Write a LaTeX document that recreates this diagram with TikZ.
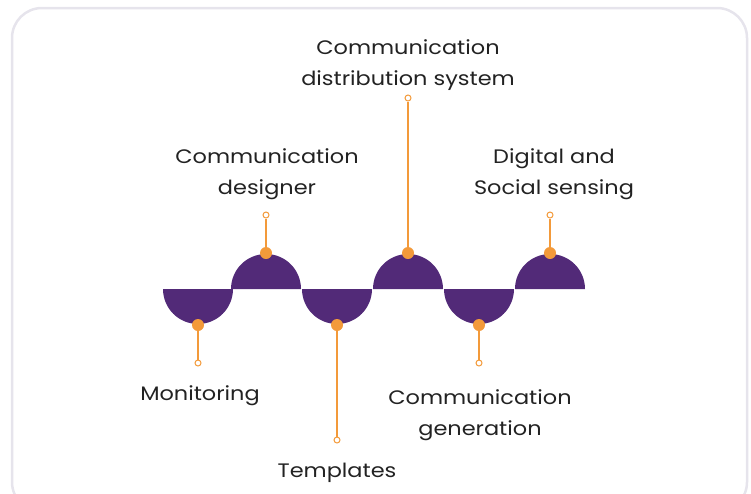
\documentclass[tikz,border=0pt]{standalone}
\usepackage{fontspec}
\setmainfont{Poppins}[FakeStretch=1.15]
\definecolor{frame}{HTML}{E6E4EC}
\definecolor{purp}{HTML}{522A78}
\definecolor{orng}{HTML}{F39A3A}
\definecolor{txt}{HTML}{222222}
\tikzset{
  x=1pt, y=-1pt,
  lbl/.style={font=\fontsize{19.5}{31}\selectfont, text=txt, align=center, inner sep=0pt, anchor=base},
  dot/.style={circle, fill=orng, minimum size=12pt, inner sep=0pt},
  ring/.style={circle, draw=orng, fill=white, line width=1pt, minimum size=6pt, inner sep=0pt},
  stem/.style={draw=orng, line width=1.3pt},
  cup/.style={fill=purp},
}
\begin{document}
\begin{tikzpicture}
\useasboundingbox (0,0) rectangle (751,493);
\draw[frame, line width=2.5pt, rounded corners=30pt] (12,8) rectangle (747,512);
% half discs
\fill[cup] (163,289) arc[start angle=180, end angle=360, x radius=35, y radius=-35] -- cycle;
\fill[cup] (231,289) arc[start angle=180, end angle=0, x radius=35, y radius=-35] -- cycle;
\fill[cup] (302,289) arc[start angle=180, end angle=360, x radius=35, y radius=-35] -- cycle;
\fill[cup] (373,289) arc[start angle=180, end angle=0, x radius=35, y radius=-35] -- cycle;
\fill[cup] (444,289) arc[start angle=180, end angle=360, x radius=35, y radius=-35] -- cycle;
\fill[cup] (515,289) arc[start angle=180, end angle=0, x radius=35, y radius=-35] -- cycle;
% dots and rings
\node[ring] (r1) at (198,363) {};
\node[ring] (r2) at (266,215) {};
\node[ring] (r3) at (337,440) {};
\node[ring] (r4) at (408,98) {};
\node[ring] (r5) at (479,363) {};
\node[ring] (r6) at (550,215) {};
\draw[stem] (198,325) -- (r1);
\draw[stem] (266,253) -- (r2);
\draw[stem] (337,325) -- (r3);
\draw[stem] (408,253) -- (r4);
\draw[stem] (479,325) -- (r5);
\draw[stem] (550,253) -- (r6);
\node[dot] (d1) at (198,325) {};
\node[dot] (d2) at (266,253) {};
\node[dot] (d3) at (337,325) {};
\node[dot] (d4) at (408,253) {};
\node[dot] (d5) at (479,325) {};
\node[dot] (d6) at (550,253) {};
% labels
\node[lbl] (t1) at (200,400) {Monitoring};
\node[lbl] (t2) at (267,194) {Communication\\designer};
\node[lbl] (t3) at (337,477) {Templates};
\node[lbl] (t4) at (408,85) {Communication\\distribution system};
\node[lbl] (t5) at (480,435) {Communication\\generation};
\node[lbl] (t6) at (554,194) {Digital and\\Social sensing};
\end{tikzpicture}
\end{document}
